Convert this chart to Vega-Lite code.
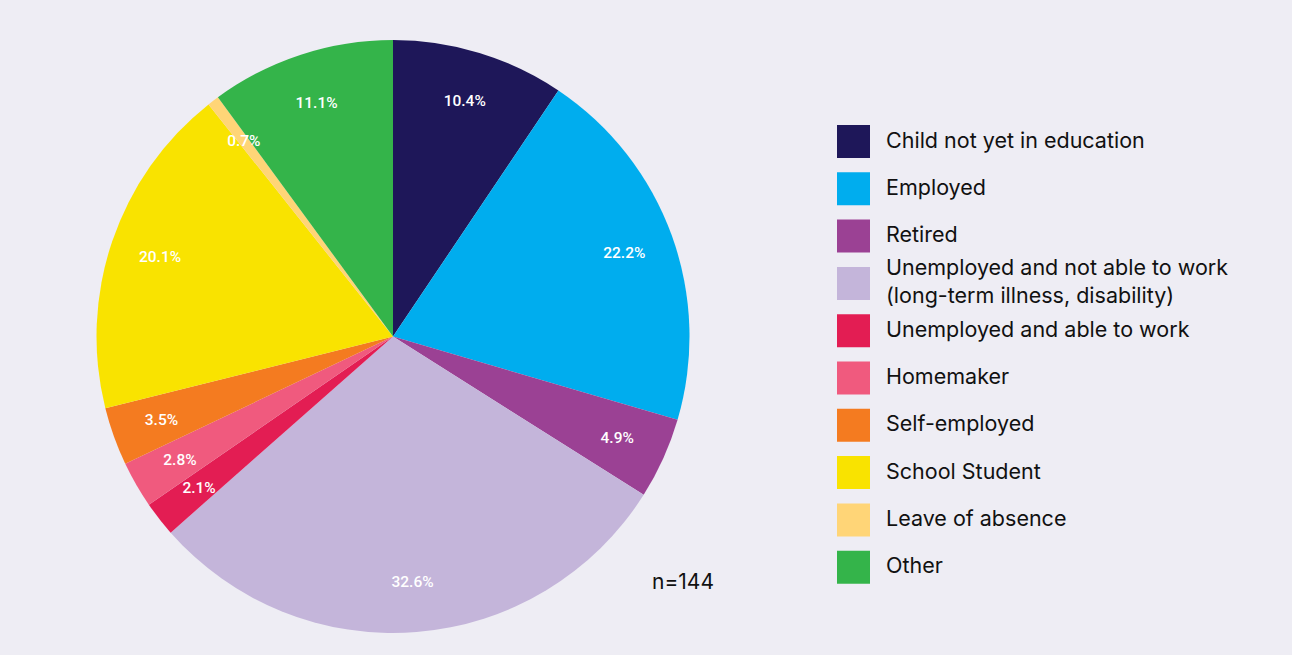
{
  "$schema": "https://vega.github.io/schema/vega-lite/v6.json",
  "width": 774,
  "height": 593,
  "autosize": {"type": "none"},
  "padding": {"left": 6, "top": 40, "right": 512, "bottom": 22},
  "background": "#eeedf4",
  "title": {
    "text": "n=144",
    "orient": "bottom",
    "anchor": "end",
    "frame": "group",
    "dx": -66,
    "dy": -54,
    "font": "Inter",
    "fontSize": 21,
    "fontWeight": "normal",
    "color": "#111111",
    "baseline": "middle"
  },
  "data": {
    "values": [
      {"status": "Child not yet in education", "share": 0.104, "rank": 1},
      {"status": "Employed", "share": 0.222, "rank": 2},
      {"status": "Retired", "share": 0.049, "rank": 3},
      {"status": "Unemployed and not able to work|(long-term illness, disability)", "share": 0.326, "rank": 4},
      {"status": "Unemployed and able to work", "share": 0.021, "rank": 5},
      {"status": "Homemaker", "share": 0.028, "rank": 6},
      {"status": "Self-employed", "share": 0.035, "rank": 7},
      {"status": "School Student", "share": 0.201, "rank": 8},
      {"status": "Leave of absence", "share": 0.007, "rank": 9},
      {"status": "Other", "share": 0.111, "rank": 10}
    ]
  },
  "encoding": {
    "theta": {"field": "share", "type": "quantitative", "stack": true},
    "order": {"field": "rank", "type": "quantitative"}
  },
  "layer": [
    {
      "mark": {"type": "arc", "outerRadius": 296.5},
      "encoding": {
        "color": {
          "field": "status",
          "type": "nominal",
          "sort": null,
          "scale": {
            "domain": [
              "Child not yet in education",
              "Employed",
              "Retired",
              "Unemployed and not able to work|(long-term illness, disability)",
              "Unemployed and able to work",
              "Homemaker",
              "Self-employed",
              "School Student",
              "Leave of absence",
              "Other"
            ],
            "range": ["#1e1759", "#00adee", "#9b4194", "#c4b5da", "#e31d53", "#f05a7e", "#f47b20", "#f9e300", "#ffd577", "#34b44a"]
          },
          "legend": {
            "title": null,
            "orient": "none",
            "legendX": 831,
            "legendY": 85,
            "symbolType": "square",
            "symbolSize": 1089,
            "symbolStrokeWidth": 0,
            "symbolOpacity": 1,
            "labelFont": "Inter",
            "labelFontSize": 21.5,
            "labelColor": "#111111",
            "labelOffset": 16,
            "labelLimit": 400,
            "labelBaseline": {"expr": "indexof(datum.label, '|') >= 0 ? 'line-bottom' : 'middle'"},
            "rowPadding": -2.7,
            "gridAlign": "all",
            "padding": 0,
            "labelExpr": "split(datum.label, '|')"
          }
        }
      }
    },
    {
      "mark": {
        "type": "text",
        "radius": 246,
        "color": "white",
        "font": "Roboto",
        "fontWeight": 500,
        "fontSize": 15.5
      },
      "encoding": {
        "text": {"field": "share", "type": "quantitative", "format": ".1%"}
      }
    }
  ],
  "config": {
    "view": {"stroke": null},
    "style": {"guide-label": {"lineHeight": 28}}
  }
}
